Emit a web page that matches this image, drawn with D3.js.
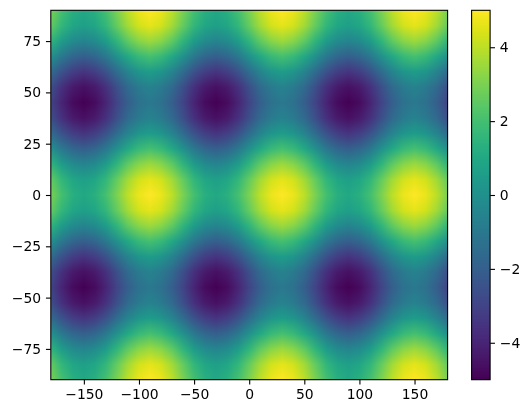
<!DOCTYPE html>
<html>
<head>
<meta charset="utf-8">
<script src="https://cdn.jsdelivr.net/npm/d3@7"></script>
<style>
html,body{margin:0;padding:0;background:#fff;}
#wrap{position:relative;width:530px;height:413px;overflow:hidden;}
canvas,svg{position:absolute;left:0;top:0;}
text{font-family:"DejaVu Sans",sans-serif;font-size:13.9px;fill:#000;}
</style>
</head>
<body>
<div id="wrap"><canvas id="c" width="530" height="413"></canvas><svg id="s" width="530" height="413"></svg></div>
<script>
const lonValues = [-180,-170,-160,-150,-140,-130,-120,-110,-100,-90,-80,-70,-60,-50,-40,-30,-20,-10,0,10,20,30,40,50,60,70,80,90,100,110,120,130,140,150,160,170,180];
const latValues = [90,82.5,75,67.5,60,52.5,45,37.5,30,22.5,15,7.5,0,-7.5,-15,-22.5,-30,-37.5,-45,-52.5,-60,-67.5,-75,-82.5,-90];
const gridValues = [
[3,2,1.3,1,1.3,2,3,4,4.7,5,4.7,4,3,2,1.3,1,1.3,2,3,4,4.7,5,4.7,4,3,2,1.3,1,1.3,2,3,4,4.7,5,4.7,4,3],
[2.6,1.6,.9,.6,.9,1.6,2.6,3.6,4.3,4.6,4.3,3.6,2.6,1.6,.9,.6,.9,1.6,2.6,3.6,4.3,4.6,4.3,3.6,2.6,1.6,.9,.6,.9,1.6,2.6,3.6,4.3,4.6,4.3,3.6,2.6],
[1.5,.5,-.2,-.5,-.2,.5,1.5,2.5,3.2,3.5,3.2,2.5,1.5,.5,-.2,-.5,-.2,.5,1.5,2.5,3.2,3.5,3.2,2.5,1.5,.5,-.2,-.5,-.2,.5,1.5,2.5,3.2,3.5,3.2,2.5,1.5],
[0,-1,-1.7,-2,-1.7,-1,0,1,1.7,2,1.7,1,0,-1,-1.7,-2,-1.7,-1,0,1,1.7,2,1.7,1,0,-1,-1.7,-2,-1.7,-1,0,1,1.7,2,1.7,1,0],
[-1.5,-2.5,-3.2,-3.5,-3.2,-2.5,-1.5,-.5,.2,.5,.2,-.5,-1.5,-2.5,-3.2,-3.5,-3.2,-2.5,-1.5,-.5,.2,.5,.2,-.5,-1.5,-2.5,-3.2,-3.5,-3.2,-2.5,-1.5,-.5,.2,.5,.2,-.5,-1.5],
[-2.6,-3.6,-4.3,-4.6,-4.3,-3.6,-2.6,-1.6,-.9,-.6,-.9,-1.6,-2.6,-3.6,-4.3,-4.6,-4.3,-3.6,-2.6,-1.6,-.9,-.6,-.9,-1.6,-2.6,-3.6,-4.3,-4.6,-4.3,-3.6,-2.6,-1.6,-.9,-.6,-.9,-1.6,-2.6],
[-3,-4,-4.7,-5,-4.7,-4,-3,-2,-1.3,-1,-1.3,-2,-3,-4,-4.7,-5,-4.7,-4,-3,-2,-1.3,-1,-1.3,-2,-3,-4,-4.7,-5,-4.7,-4,-3,-2,-1.3,-1,-1.3,-2,-3],
[-2.6,-3.6,-4.3,-4.6,-4.3,-3.6,-2.6,-1.6,-.9,-.6,-.9,-1.6,-2.6,-3.6,-4.3,-4.6,-4.3,-3.6,-2.6,-1.6,-.9,-.6,-.9,-1.6,-2.6,-3.6,-4.3,-4.6,-4.3,-3.6,-2.6,-1.6,-.9,-.6,-.9,-1.6,-2.6],
[-1.5,-2.5,-3.2,-3.5,-3.2,-2.5,-1.5,-.5,.2,.5,.2,-.5,-1.5,-2.5,-3.2,-3.5,-3.2,-2.5,-1.5,-.5,.2,.5,.2,-.5,-1.5,-2.5,-3.2,-3.5,-3.2,-2.5,-1.5,-.5,.2,.5,.2,-.5,-1.5],
[0,-1,-1.7,-2,-1.7,-1,0,1,1.7,2,1.7,1,0,-1,-1.7,-2,-1.7,-1,0,1,1.7,2,1.7,1,0,-1,-1.7,-2,-1.7,-1,0,1,1.7,2,1.7,1,0],
[1.5,.5,-.2,-.5,-.2,.5,1.5,2.5,3.2,3.5,3.2,2.5,1.5,.5,-.2,-.5,-.2,.5,1.5,2.5,3.2,3.5,3.2,2.5,1.5,.5,-.2,-.5,-.2,.5,1.5,2.5,3.2,3.5,3.2,2.5,1.5],
[2.6,1.6,.9,.6,.9,1.6,2.6,3.6,4.3,4.6,4.3,3.6,2.6,1.6,.9,.6,.9,1.6,2.6,3.6,4.3,4.6,4.3,3.6,2.6,1.6,.9,.6,.9,1.6,2.6,3.6,4.3,4.6,4.3,3.6,2.6],
[3,2,1.3,1,1.3,2,3,4,4.7,5,4.7,4,3,2,1.3,1,1.3,2,3,4,4.7,5,4.7,4,3,2,1.3,1,1.3,2,3,4,4.7,5,4.7,4,3],
[2.6,1.6,.9,.6,.9,1.6,2.6,3.6,4.3,4.6,4.3,3.6,2.6,1.6,.9,.6,.9,1.6,2.6,3.6,4.3,4.6,4.3,3.6,2.6,1.6,.9,.6,.9,1.6,2.6,3.6,4.3,4.6,4.3,3.6,2.6],
[1.5,.5,-.2,-.5,-.2,.5,1.5,2.5,3.2,3.5,3.2,2.5,1.5,.5,-.2,-.5,-.2,.5,1.5,2.5,3.2,3.5,3.2,2.5,1.5,.5,-.2,-.5,-.2,.5,1.5,2.5,3.2,3.5,3.2,2.5,1.5],
[0,-1,-1.7,-2,-1.7,-1,0,1,1.7,2,1.7,1,0,-1,-1.7,-2,-1.7,-1,0,1,1.7,2,1.7,1,0,-1,-1.7,-2,-1.7,-1,0,1,1.7,2,1.7,1,0],
[-1.5,-2.5,-3.2,-3.5,-3.2,-2.5,-1.5,-.5,.2,.5,.2,-.5,-1.5,-2.5,-3.2,-3.5,-3.2,-2.5,-1.5,-.5,.2,.5,.2,-.5,-1.5,-2.5,-3.2,-3.5,-3.2,-2.5,-1.5,-.5,.2,.5,.2,-.5,-1.5],
[-2.6,-3.6,-4.3,-4.6,-4.3,-3.6,-2.6,-1.6,-.9,-.6,-.9,-1.6,-2.6,-3.6,-4.3,-4.6,-4.3,-3.6,-2.6,-1.6,-.9,-.6,-.9,-1.6,-2.6,-3.6,-4.3,-4.6,-4.3,-3.6,-2.6,-1.6,-.9,-.6,-.9,-1.6,-2.6],
[-3,-4,-4.7,-5,-4.7,-4,-3,-2,-1.3,-1,-1.3,-2,-3,-4,-4.7,-5,-4.7,-4,-3,-2,-1.3,-1,-1.3,-2,-3,-4,-4.7,-5,-4.7,-4,-3,-2,-1.3,-1,-1.3,-2,-3],
[-2.6,-3.6,-4.3,-4.6,-4.3,-3.6,-2.6,-1.6,-.9,-.6,-.9,-1.6,-2.6,-3.6,-4.3,-4.6,-4.3,-3.6,-2.6,-1.6,-.9,-.6,-.9,-1.6,-2.6,-3.6,-4.3,-4.6,-4.3,-3.6,-2.6,-1.6,-.9,-.6,-.9,-1.6,-2.6],
[-1.5,-2.5,-3.2,-3.5,-3.2,-2.5,-1.5,-.5,.2,.5,.2,-.5,-1.5,-2.5,-3.2,-3.5,-3.2,-2.5,-1.5,-.5,.2,.5,.2,-.5,-1.5,-2.5,-3.2,-3.5,-3.2,-2.5,-1.5,-.5,.2,.5,.2,-.5,-1.5],
[0,-1,-1.7,-2,-1.7,-1,0,1,1.7,2,1.7,1,0,-1,-1.7,-2,-1.7,-1,0,1,1.7,2,1.7,1,0,-1,-1.7,-2,-1.7,-1,0,1,1.7,2,1.7,1,0],
[1.5,.5,-.2,-.5,-.2,.5,1.5,2.5,3.2,3.5,3.2,2.5,1.5,.5,-.2,-.5,-.2,.5,1.5,2.5,3.2,3.5,3.2,2.5,1.5,.5,-.2,-.5,-.2,.5,1.5,2.5,3.2,3.5,3.2,2.5,1.5],
[2.6,1.6,.9,.6,.9,1.6,2.6,3.6,4.3,4.6,4.3,3.6,2.6,1.6,.9,.6,.9,1.6,2.6,3.6,4.3,4.6,4.3,3.6,2.6,1.6,.9,.6,.9,1.6,2.6,3.6,4.3,4.6,4.3,3.6,2.6],
[3,2,1.3,1,1.3,2,3,4,4.7,5,4.7,4,3,2,1.3,1,1.3,2,3,4,4.7,5,4.7,4,3,2,1.3,1,1.3,2,3,4,4.7,5,4.7,4,3]
];
const xTicks = [-150,-100,-50,0,50,100,150];
const yTicks = [-75,-50,-25,0,25,50,75];
const colorTicks = [-4,-2,0,2,4];
const colorDomain = [-5,5];

const plot = {left:50.8, right:447.6, top:10.3, bottom:379.7};
const bar = {left:471.6, right:490.1};

const x = d3.scaleLinear().domain([-180,180]).range([plot.left,plot.right]);
const y = d3.scaleLinear().domain([-90,90]).range([plot.bottom,plot.top]);
const cbY = d3.scaleLinear().domain(colorDomain).range([plot.bottom,plot.top]);
const color = d3.scaleSequential(d3.interpolateViridis).domain(colorDomain);

const ctx = document.getElementById('c').getContext('2d');
// The value grid as a small image: one pixel per grid node.
const src = document.createElement('canvas');
src.width = lonValues.length; src.height = latValues.length;
const sctx = src.getContext('2d');
gridValues.forEach((row,j)=>row.forEach((v,i)=>{
  sctx.fillStyle = color(v);
  sctx.fillRect(i,j,1,1);
}));
ctx.imageSmoothingEnabled = true;
ctx.imageSmoothingQuality = 'medium';
ctx.save();
ctx.beginPath();
ctx.rect(x(-180),y(90),x(180)-x(-180),y(-90)-y(90));
ctx.clip();
// Node centres sit half a source pixel in from the edge of the small image.
ctx.drawImage(src,0.5,0.5,src.width-1,src.height-1,x(-180),y(90),x(180)-x(-180),y(-90)-y(90));
ctx.restore();
// Colour bar, one strip per pixel row, through the same colour scale.
for(let py=Math.floor(plot.top);py<Math.ceil(plot.bottom);py++){
  ctx.fillStyle = color(cbY.invert(py+0.5));
  ctx.fillRect(bar.left,py,bar.right-bar.left,1);
}

const svg = d3.select('#s');
function styleAxis(g){
  g.select('.domain').remove();
  g.selectAll('line').attr('stroke','#000').attr('stroke-width',1.1);
  g.selectAll('text').style('font-family','"DejaVu Sans",sans-serif').style('font-size','13.9px').attr('fill','#000');
}
const ax = d3.axisBottom(x).tickValues(xTicks).tickSize(4.86).tickPadding(4.86).tickFormat(d3.format('d'));
const ay = d3.axisLeft(y).tickValues(yTicks).tickSize(4.86).tickPadding(4.86).tickFormat(d3.format('d'));
const ac = d3.axisRight(cbY).tickValues(colorTicks).tickSize(4.86).tickPadding(4.86).tickFormat(d3.format('d'));
svg.append('g').attr('transform',`translate(0,${plot.bottom})`).call(ax).call(styleAxis);
svg.append('g').attr('transform',`translate(${plot.left},0)`).call(ay).call(styleAxis);
svg.append('g').attr('transform',`translate(${bar.right},0)`).call(ac).call(styleAxis);
svg.append('rect').attr('x',plot.left).attr('y',plot.top).attr('width',plot.right-plot.left).attr('height',plot.bottom-plot.top)
  .attr('fill','none').attr('stroke','#000').attr('stroke-width',1.1);
svg.append('rect').attr('x',bar.left).attr('y',plot.top).attr('width',bar.right-bar.left).attr('height',plot.bottom-plot.top)
  .attr('fill','none').attr('stroke','#000').attr('stroke-width',1.1);
</script>
</body>
</html>
